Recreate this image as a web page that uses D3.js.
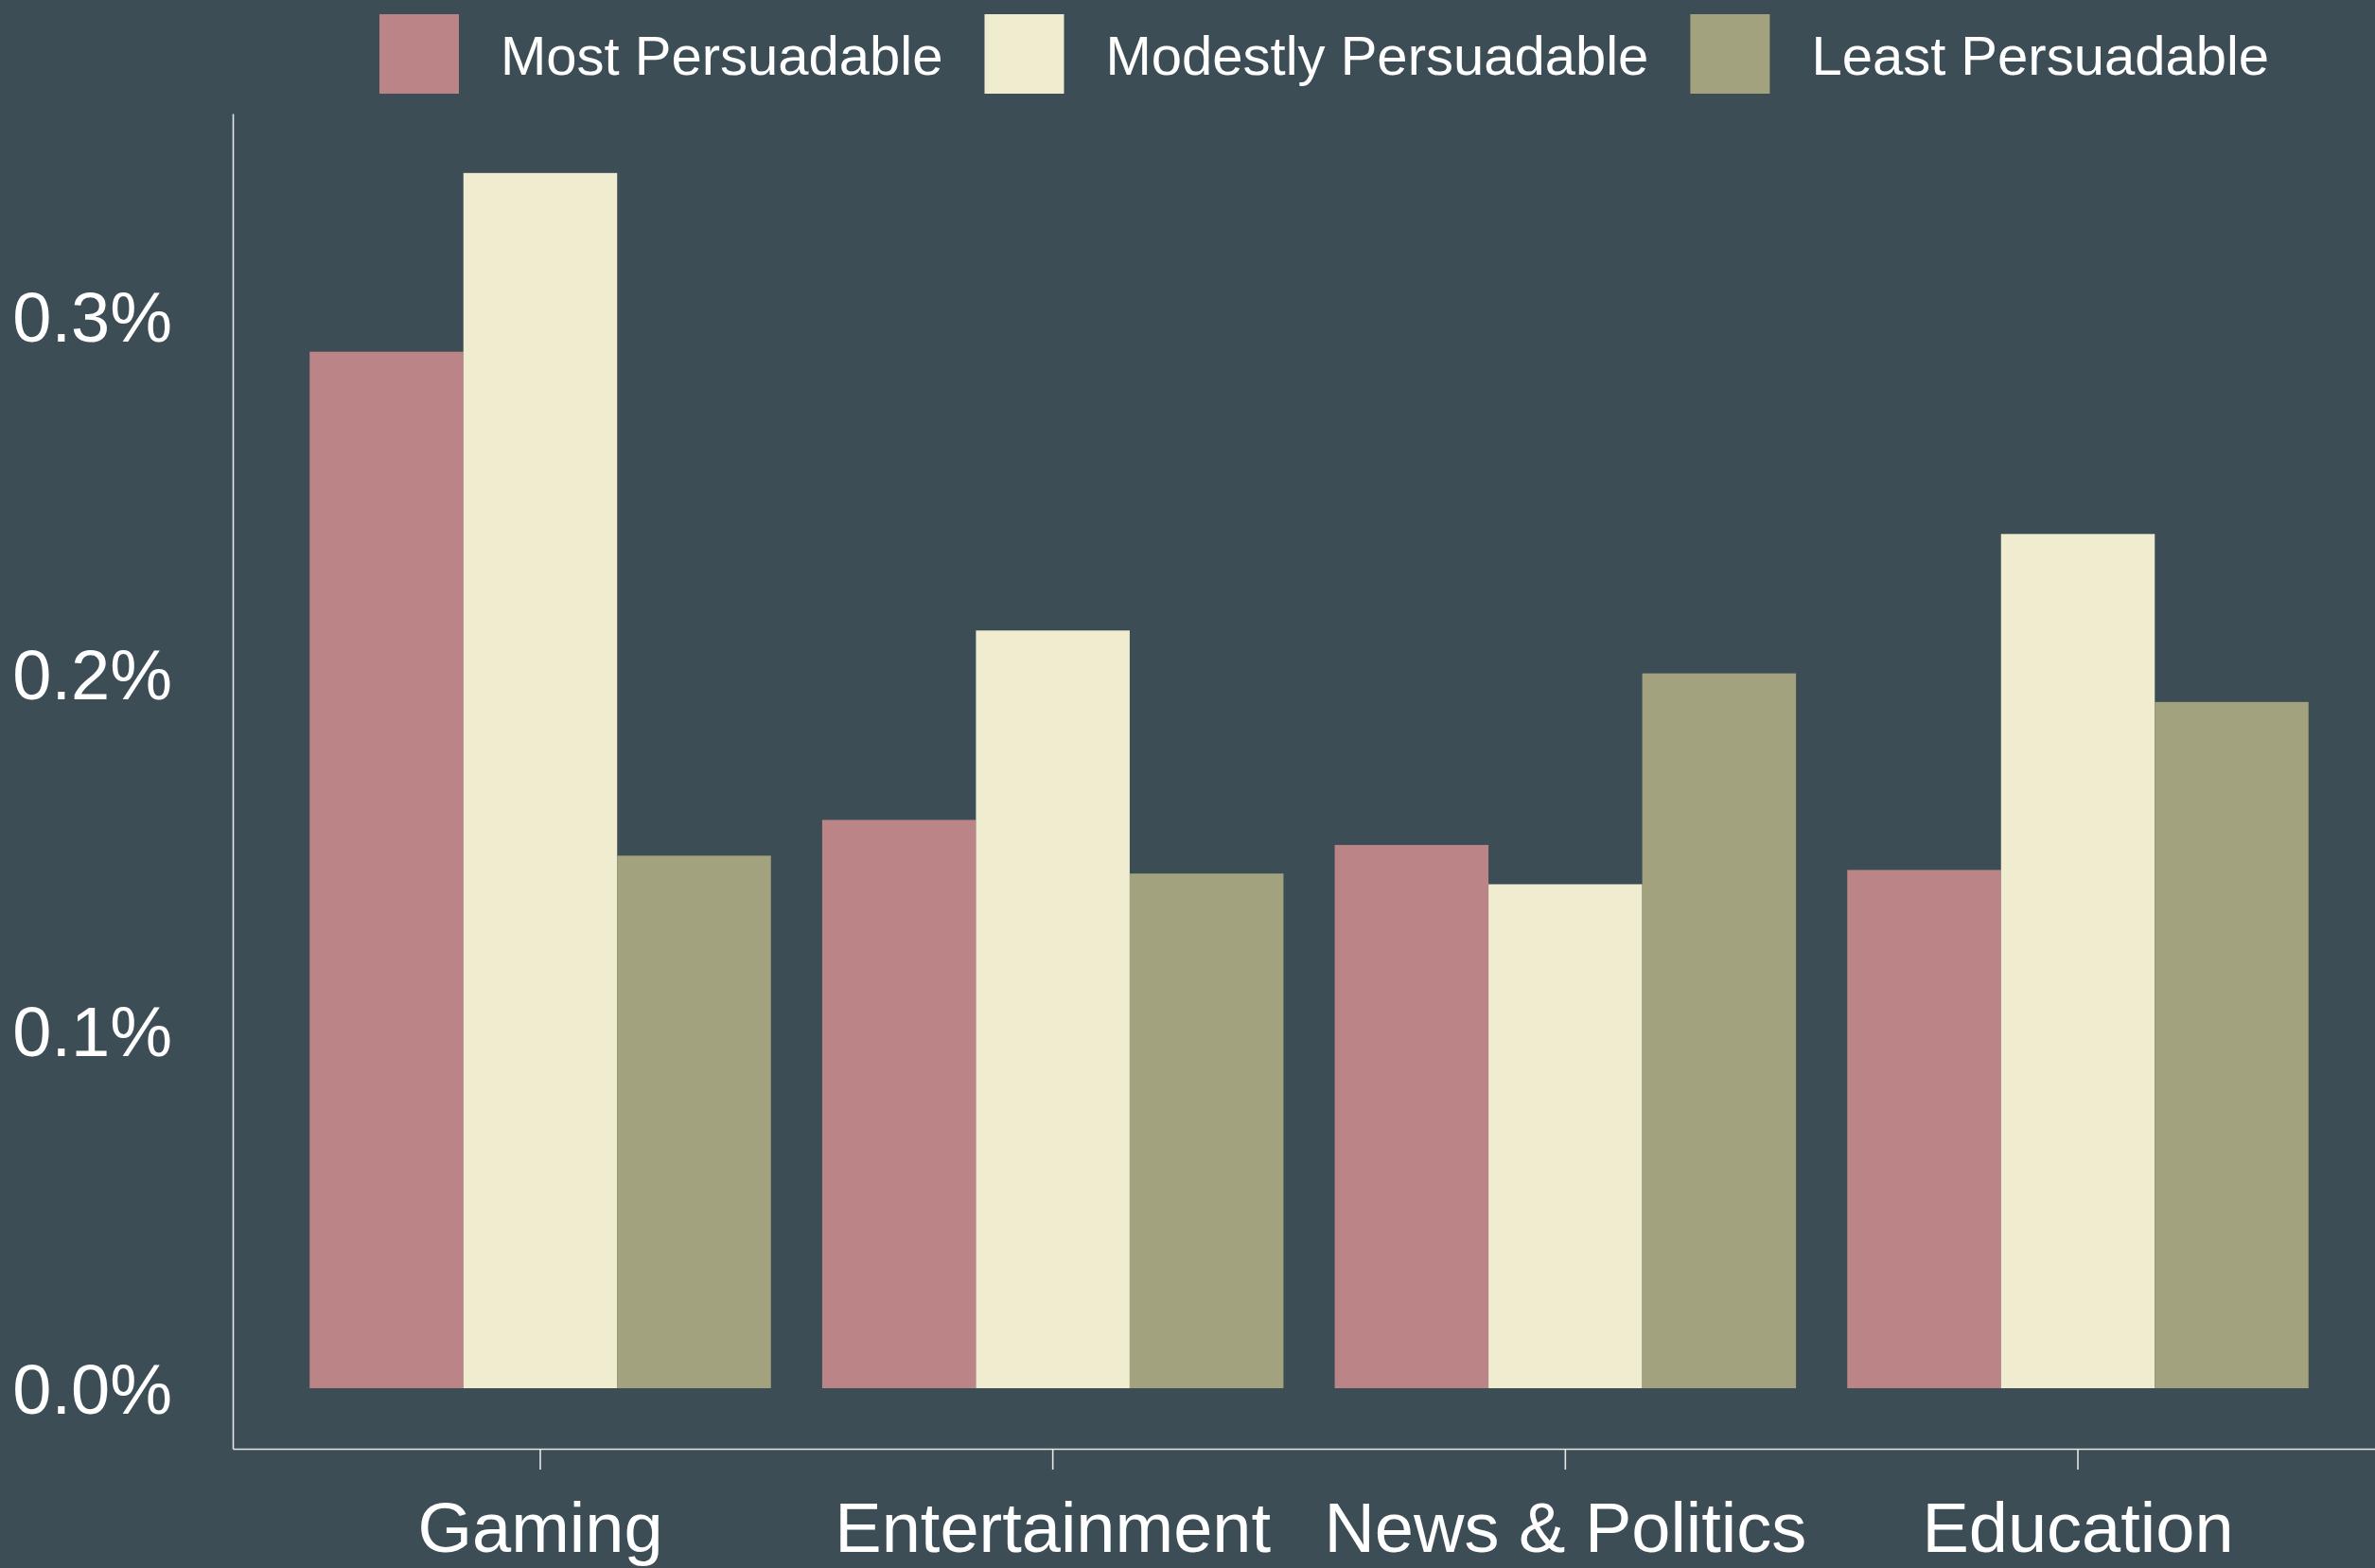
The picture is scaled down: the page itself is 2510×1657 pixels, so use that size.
<!DOCTYPE html>
<html>
<head>
<meta charset="utf-8">
<script src="https://cdn.jsdelivr.net/npm/d3@7"></script>
<style>
  html, body { margin: 0; padding: 0; background: #3c4d55; }
  svg { display: block; }
  text { font-family: "Liberation Sans", Arial, Helvetica, sans-serif; }
</style>
</head>
<body>
<script>
const categories = ["Gaming", "Entertainment", "News & Politics", "Education"];
const seriesNames = ["Most Persuadable", "Modestly Persuadable", "Least Persuadable"];
const mostPersuadable = [0.290, 0.159, 0.152, 0.145];
const modestlyPersuadable = [0.340, 0.212, 0.141, 0.239];
const leastPersuadable = [0.149, 0.144, 0.200, 0.192];
const yTicks = [0, 0.1, 0.2, 0.3];
const colors = ["#bb8486", "#f0ecd0", "#a2a37e"];

const seriesValues = [mostPersuadable, modestlyPersuadable, leastPersuadable];
const data = categories.map((c, i) => ({
  category: c,
  values: seriesNames.map((s, j) => ({ series: s, value: seriesValues[j][i] }))
}));

const W = 2510, H = 1657;
const svg = d3.select("body").append("svg").attr("width", W).attr("height", H);
svg.append("rect").attr("width", W).attr("height", H).attr("fill", "#3c4d55");

const panel = { left: 246, right: 2521, top: 120, bottom: 1531 };

const y = d3.scaleLinear()
  .domain([-(1531 - 1467) / 3777, (1467 - 120) / 3777])
  .range([panel.bottom, panel.top]);

const x = d3.scaleBand()
  .domain(categories)
  .range([panel.left, panel.right])
  .paddingInner(0.1)
  .paddingOuter(0.15);

const xInner = d3.scaleBand()
  .domain(seriesNames)
  .range([0, x.bandwidth()])
  .padding(0);

const color = d3.scaleOrdinal().domain(seriesNames).range(colors);

// Bars
const groups = svg.append("g").selectAll("g")
  .data(data).join("g")
  .attr("transform", d => `translate(${x(d.category)},0)`);

groups.selectAll("rect")
  .data(d => d.values).join("rect")
  .attr("x", d => xInner(d.series))
  .attr("width", xInner.bandwidth())
  .attr("y", d => y(d.value))
  .attr("height", d => y(0) - y(d.value))
  .attr("fill", d => color(d.series));

// Y axis
const yAxis = svg.append("g")
  .attr("transform", `translate(${panel.left},0)`)
  .call(d3.axisLeft(y).tickValues(yTicks).tickSize(0).tickPadding(64)
    .tickFormat(d => d3.format(".1f")(d) + "%"));
yAxis.select(".domain").attr("stroke", "#e6e6e6").attr("stroke-width", 1.6);
yAxis.selectAll("text")
  .attr("fill", "#ffffff")
  .attr("font-size", 74)
  .attr("font-family", "'Liberation Sans', Arial, sans-serif")
  .attr("dy", "0.36em");

// X axis
const xAxis = svg.append("g")
  .attr("transform", `translate(0,${panel.bottom})`)
  .call(d3.axisBottom(x).tickSize(22).tickSizeOuter(0).tickPadding(34));
xAxis.select(".domain").attr("stroke", "#e6e6e6").attr("stroke-width", 1.6);
xAxis.selectAll(".tick line").attr("stroke", "#e6e6e6").attr("stroke-width", 1.6);
xAxis.selectAll("text")
  .attr("fill", "#ffffff")
  .attr("font-size", 74)
  .attr("font-family", "'Liberation Sans', Arial, sans-serif")
  .attr("dy", "0.71em");

// Legend
const legend = svg.append("g");
let lx = 401;
seriesNames.forEach((s, i) => {
  legend.append("rect")
    .attr("x", lx).attr("y", 15)
    .attr("width", 84).attr("height", 84)
    .attr("fill", color(s));
  const t = legend.append("text")
    .attr("x", lx + 84 + 44).attr("y", 79)
    .attr("fill", "#ffffff")
    .attr("font-size", 58)
    .text(s);
  const tw = t.node().getComputedTextLength();
  lx = lx + 84 + 44 + tw + 44;
});
</script>
</body>
</html>
